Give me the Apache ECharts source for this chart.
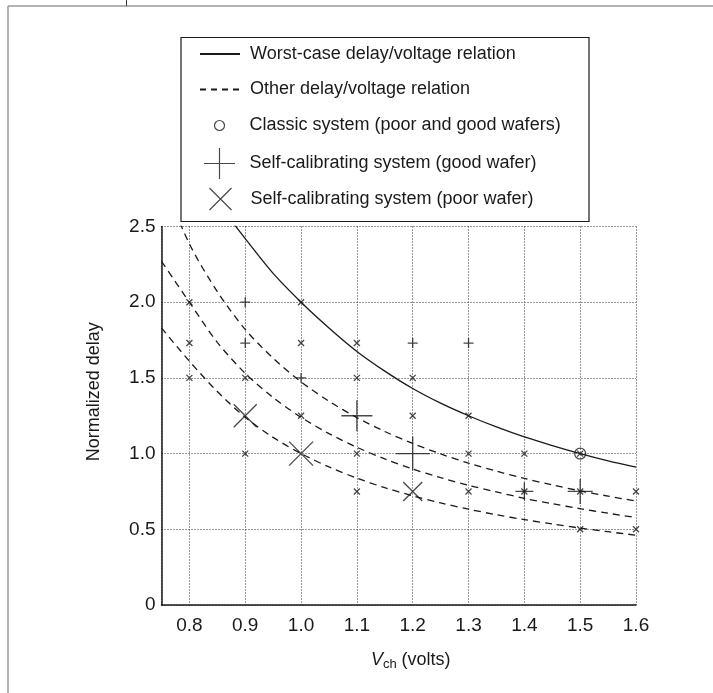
<!DOCTYPE html>
<html><head><meta charset="utf-8">
<script src="https://cdn.jsdelivr.net/npm/echarts@6/dist/echarts.min.js"></script>
<style>html,body{margin:0;padding:0;background:#fff}#c{width:713px;height:693px}</style>
</head><body><div id="c"></div>
<script>
// ---- data ----
const legendNames = [
  'Worst-case delay/voltage relation',
  'Other delay/voltage relation',
  'Classic system (poor and good wafers)',
  'Self-calibrating system (good wafer)',
  'Self-calibrating system (poor wafer)'
];
const worstV     = [0.85, 0.9, 0.95, 1.0, 1.05, 1.1, 1.15, 1.2, 1.25, 1.3, 1.35, 1.4, 1.45, 1.5, 1.55, 1.6];
const worstDelay = [2.66, 2.42, 2.19, 2.0, 1.83, 1.675, 1.545, 1.43, 1.333, 1.25, 1.176, 1.11, 1.053, 1.0, 0.952, 0.91];

const curveV     = [0.75, 0.8, 0.85, 0.9, 0.95, 1.0, 1.05, 1.1, 1.15, 1.2, 1.25, 1.3, 1.35, 1.4, 1.45, 1.5, 1.55, 1.6];
const upperDelay = [2.82, 2.385, 2.07, 1.82, 1.63, 1.474, 1.346, 1.238, 1.146, 1.067, 0.998, 0.937, 0.884, 0.836, 0.793, 0.754, 0.719, 0.687];
const midDelay   = [2.27, 2.0, 1.735, 1.53, 1.37, 1.24, 1.132, 1.042, 0.965, 0.898, 0.841, 0.79, 0.747, 0.704, 0.669, 0.636, 0.606, 0.577];
const lowerDelay = [1.83, 1.61, 1.41, 1.24, 1.107, 1.0, 0.912, 0.838, 0.775, 0.721, 0.674, 0.633, 0.596, 0.564, 0.535, 0.508, 0.484, 0.461];

const sampleV     = [0.8, 0.8, 0.8, 0.9, 0.9, 1.0, 1.0, 1.0, 1.1, 1.1, 1.1, 1.1, 1.2, 1.2, 1.3, 1.3, 1.3, 1.4, 1.4, 1.5, 1.5, 1.5, 1.6, 1.6];
const sampleDelay = [2.0, 1.73, 1.5, 1.5, 1.0, 2.0, 1.73, 1.25, 1.73, 1.5, 1.0, 0.75, 1.5, 1.25, 1.25, 1.0, 0.75, 1.0, 0.75, 1.0, 0.75, 0.5, 0.75, 0.5];

const plusV      = [0.9, 0.9, 1.0, 1.2, 1.3];
const plusDelay  = [2.0, 1.73, 1.5, 1.73, 1.73];

const classicV     = [1.5];
const classicDelay = [1.0];

const goodV      = [1.1, 1.2, 1.4, 1.5];
const goodDelay  = [1.25, 1.0, 0.75, 0.75];

const poorV      = [0.9, 1.0, 1.2];
const poorDelay  = [1.25, 1.0, 0.75];

// ---- styles ----
const goodSizes = [31, 34, 18, 25];
const poorSizes = [23, 24, 19];
const INK = '#1a1a1a';
const FONT = 'Liberation Sans, Arial, Helvetica, sans-serif';
const PLUS = 'path://M15,0L15,30M0,15L30,15';
const CROSS = 'path://M0,0L30,30M30,0L0,30';
const DASH = [7, 5];

const zip = (a, b) => a.map((v, i) => [v, b[i]]);

const lineSeries = (name, xs, ys, type) => ({
  name, type: 'line', data: zip(xs, ys), symbol: 'none', smooth: 0.3,
  clip: true, color: INK, lineStyle: { color: INK, width: 1.3, type }, z: 2, silent: true
});
const markStyle = { color: 'none', borderColor: INK, borderWidth: 1.3 };

const legendRows = [
  { name: legendNames[0], h: 14, cy: 54, left: 199, hideSym: true },
  { name: legendNames[1], h: 14, cy: 89.5, left: 199, hideSym: true, lineStyle: { type: [6, 5] } },
  { name: legendNames[2], h: 10, cy: 125.5, left: 212, icon: 'circle' },
  { name: legendNames[3], h: 31, cy: 161, left: 201.5, icon: PLUS },
  { name: legendNames[4], h: 22, cy: 196.5, left: 207, icon: CROSS }
];

const option = {
  backgroundColor: '#fff',
  animation: false,
  textStyle: { fontFamily: FONT },
  grid: { left: 161.5, right: 77, top: 226.5, bottom: 88 },
  xAxis: {
    type: 'value', min: 0.75, max: 1.6, splitNumber: 8,
    axisLine: { show: true, lineStyle: { color: INK, width: 1.5 } },
    axisTick: { show: false },
    axisLabel: {
      color: INK, fontSize: 19, margin: 11,
      formatter: v => (Math.abs(v * 10 - Math.round(v * 10)) > 1e-6 ? '' : v.toFixed(1))
    },
    splitLine: { show: true, lineStyle: { color: '#333', width: 1, type: [1, 2] } },
    name: '{i|V}{s|ch} (volts)', nameLocation: 'middle', nameGap: 44,
    nameTextStyle: {
      color: INK, fontSize: 18, padding: [0, 0, 0, 24],
      rich: { i: { fontStyle: 'italic', fontSize: 18, color: INK }, s: { fontSize: 13, color: INK, padding: [9, 0, 0, 0] } }
    }
  },
  yAxis: {
    type: 'value', min: 0, max: 2.5, interval: 0.5,
    axisLine: { show: true, lineStyle: { color: INK, width: 1.5 } },
    axisTick: { show: false },
    axisLabel: { color: INK, fontSize: 19, margin: 6, formatter: v => (v === 0 ? '0' : v.toFixed(1)) },
    splitLine: { show: true, lineStyle: { color: '#333', width: 1, type: [1, 2] } },
    name: 'Normalized delay', nameLocation: 'middle', nameGap: 58,
    nameTextStyle: { color: INK, fontSize: 18, padding: [0, 0, 0, 48] }
  },
  legend: legendRows.map(r => ({
    orient: 'vertical', left: r.left, top: r.cy - Math.max(r.h, 20) / 2,
    itemWidth: 40, itemHeight: r.h, padding: 0, itemGap: 0, selectedMode: false,
    textStyle: { color: INK, fontSize: 18, lineHeight: 20, fontFamily: FONT, padding: [0, 0, 0, 5] },
    data: [Object.assign({ name: r.name },
      r.icon ? { icon: r.icon, itemStyle: { color: 'none', borderColor: INK, borderWidth: 1.2 } } : {},
      r.hideSym ? { itemStyle: { color: 'none', borderColor: 'none', borderWidth: 0, opacity: 0 } } : {},
      r.lineStyle ? { lineStyle: r.lineStyle } : {})]
  })),
  graphic: [
    { type: 'line', shape: { x1: 8, y1: 6, x2: 713, y2: 6 }, style: { stroke: '#9a9a9a', lineWidth: 1.5 }, silent: true },
    { type: 'line', shape: { x1: 8, y1: 6, x2: 8, y2: 693 }, style: { stroke: '#9a9a9a', lineWidth: 1.5 }, silent: true },
    { type: 'line', shape: { x1: 126.5, y1: 0, x2: 126.5, y2: 6 }, style: { stroke: '#333', lineWidth: 1 }, silent: true },
    { type: 'rect', shape: { x: 181, y: 37.5, width: 408, height: 184 }, style: { fill: 'none', stroke: INK, lineWidth: 1.2 }, silent: true }
  ],
  series: [
    lineSeries(legendNames[0], worstV, worstDelay, 'solid'),
    lineSeries(legendNames[1], curveV, upperDelay, DASH),
    lineSeries(legendNames[1], curveV, midDelay, DASH),
    lineSeries(legendNames[1], curveV, lowerDelay, DASH),
    { name: 'Sample', type: 'scatter', data: zip(sampleV, sampleDelay), symbol: 'path://M0,0L10,10M10,0L0,10',
      symbolSize: 6, itemStyle: markStyle, z: 3, silent: true },
    { name: 'Sample+', type: 'scatter', data: zip(plusV, plusDelay), symbol: 'path://M5,0L5,10M0,5L10,5',
      symbolSize: 10, itemStyle: markStyle, z: 3, silent: true },
    { name: legendNames[2], type: 'scatter', data: zip(classicV, classicDelay), symbol: 'circle',
      symbolSize: 11, itemStyle: { color: 'none', borderColor: INK, borderWidth: 1.2 }, z: 4, silent: true },
    { name: legendNames[3], type: 'scatter', data: zip(goodV, goodDelay), symbol: PLUS,
      symbolSize: (v, p) => goodSizes[p.dataIndex], itemStyle: markStyle, z: 4, silent: true },
    { name: legendNames[4], type: 'scatter', data: zip(poorV, poorDelay), symbol: CROSS,
      symbolSize: (v, p) => poorSizes[p.dataIndex], itemStyle: markStyle, z: 4, silent: true }
  ]
};
const chart = echarts.init(document.getElementById('c'), null, { renderer: 'canvas' });
chart.setOption(option);
</script>
</body></html>
